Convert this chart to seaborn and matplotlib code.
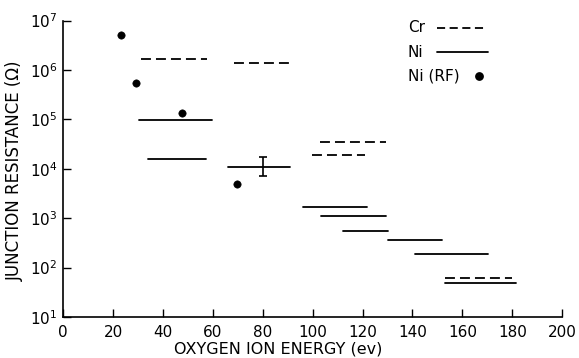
#Importing libraries
import pandas as pd
import matplotlib
matplotlib.use("Agg")
import matplotlib.pyplot as plt
import seaborn as sns
import numpy as np

#Cr film runs (dashed bars): energy range start, end and resistance
CrStart = [31.3, 68.6, 102.8, 99.7, 152.9]
CrEnd = [57.8, 90.4, 129.2, 120.8, 179.7]
CrResistance = [1.7e6, 1.4e6, 3.5e4, 1.9e4, 63]

#Ni film runs (solid bars)
NiStart = [30.5, 33.9, 65.9, 96.1, 103.4, 112.0, 130.3, 141.2, 152.9]
NiEnd = [59.7, 57.2, 90.8, 121.6, 129.2, 130.3, 152.0, 170.4, 181.4]
NiResistance = [9.5e4, 1.6e4, 1.1e4, 1.7e3, 1.1e3, 560, 355, 185, 49]

#Ni (RF) points
RFEnergy = [23.2, 29.2, 47.7, 69.5]
RFResistance = [5.0e6, 5.4e5, 1.36e5, 5.0e3]

#Error bar on the 80 ev Ni run
ErrEnergy = 80.1
ErrLow = 7.0e3
ErrHigh = 1.7e4

LegendLabels = ["Cr", "Ni", "Ni (RF)"]

#Building a long table of segments so seaborn draws each bar as its own line
Rows = []
for i in range(len(CrStart)):
    Rows.append({"seg": "cr%d" % i, "Material": "Cr", "Energy": CrStart[i], "Resistance": CrResistance[i]})
    Rows.append({"seg": "cr%d" % i, "Material": "Cr", "Energy": CrEnd[i], "Resistance": CrResistance[i]})
for i in range(len(NiStart)):
    Rows.append({"seg": "ni%d" % i, "Material": "Ni", "Energy": NiStart[i], "Resistance": NiResistance[i]})
    Rows.append({"seg": "ni%d" % i, "Material": "Ni", "Energy": NiEnd[i], "Resistance": NiResistance[i]})
Segments = pd.DataFrame(Rows)
Points = pd.DataFrame({"Energy": RFEnergy, "Resistance": RFResistance})

sns.set_style("ticks")
plt.rcParams["font.family"] = ["DejaVu Sans"]
plt.rcParams["text.color"] = "black"
plt.rcParams["axes.labelcolor"] = "black"

fig = plt.figure(figsize=(5.79, 3.58), dpi=100)
ax = fig.add_axes([0.109, 0.1145, 0.862, 0.828])

CrDash = (5.5, 2.8)
sns.lineplot(data=Segments, x="Energy", y="Resistance", units="seg", estimator=None,
             style="Material", style_order=["Cr", "Ni"],
             dashes={"Cr": CrDash, "Ni": ""}, color="black", linewidth=1.3,
             legend=False, ax=ax)
sns.scatterplot(data=Points, x="Energy", y="Resistance", color="black", s=28,
                edgecolor="black", legend=False, ax=ax)

#Error bar
Mid = np.sqrt(ErrLow * ErrHigh)
ax.errorbar([ErrEnergy], [Mid], yerr=[[Mid - ErrLow], [ErrHigh - Mid]],
            fmt="none", ecolor="black", elinewidth=1.2, capsize=3, capthick=1.2)

ax.set_yscale("log")
ax.set_xlim(0, 200)
ax.set_ylim(10, 1e7)
ax.set_xticks(np.arange(0, 201, 20))
ax.set_yticks([1e1, 1e2, 1e3, 1e4, 1e5, 1e6, 1e7])
ax.minorticks_off()
ax.tick_params(axis="both", direction="in", length=6, width=1, colors="black",
               labelsize=11)
ax.tick_params(axis="x", pad=6)
ax.tick_params(axis="y", pad=4)
sns.despine(ax=ax)
for s in ["left", "bottom"]:
    ax.spines[s].set_color("black")
    ax.spines[s].set_linewidth(1.2)

ax.set_xlabel("OXYGEN ION ENERGY (ev)", fontsize=11.5, color="black")
ax.xaxis.label.set_va("center")
ax.xaxis.set_label_coords(0.431, -0.108)
ax.set_ylabel("JUNCTION RESISTANCE (\u03a9)", fontsize=12, color="black")
ax.yaxis.label.set_va("center")
ax.yaxis.set_label_coords(-0.0964, 0.493)

#Legend drawn by hand: label first, sample after it, labels left aligned
LegendY = [0.975, 0.894, 0.814]
for Label, Y in zip(LegendLabels, LegendY):
    ax.text(0.691, Y, Label, transform=ax.transAxes, ha="left", va="center",
            fontsize=11, color="black")
ax.plot([0.749, 0.850], [LegendY[0]] * 2, transform=ax.transAxes, color="black",
        linewidth=1.3, dashes=(4.5, 2.5))
ax.plot([0.750, 0.851], [LegendY[1]] * 2, transform=ax.transAxes, color="black",
        linewidth=1.3)
ax.plot([0.833], [LegendY[2]], transform=ax.transAxes, marker="o", color="black",
        markersize=5.3, linestyle="none")

plt.savefig("out.png", dpi=100)
